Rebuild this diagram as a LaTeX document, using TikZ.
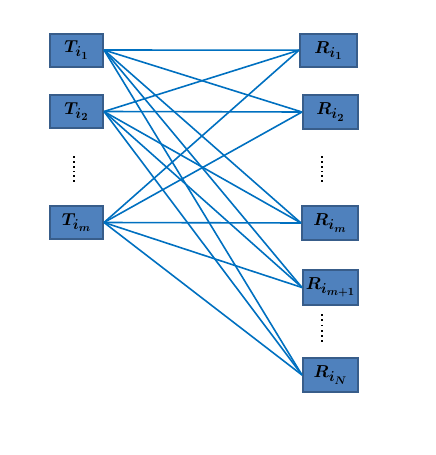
\documentclass[tikz,border=0pt]{standalone}
\usepackage{bm}
\DeclareMathSizes{18}{18}{13.5}{10.5}
\definecolor{boxfill}{RGB}{79,129,189}
\definecolor{boxline}{RGB}{56,93,138}
\definecolor{linkblue}{RGB}{0,112,192}
\begin{document}
\begin{tikzpicture}[x=1pt,y=-1pt,
  tbox/.style={draw=boxline, fill=boxfill, line width=2pt, inner sep=0pt,
     font=\fontsize{18}{20}\selectfont, text=black},
  link/.style={draw=linkblue, line width=1.6pt},
  dotsq/.style={fill=black}]
\useasboundingbox (0,0) rectangle (436,455);
% transmitter boxes
\node[tbox, minimum width=53pt, minimum height=33pt] (T1) at (76.5,50) {$\bm{T_{i_1}}$};
\node[tbox, minimum width=53pt, minimum height=33pt] (T2) at (76.5,111.5) {$\bm{T_{i_2}}$};
\node[tbox, minimum width=53pt, minimum height=33pt] (Tm) at (76.5,222.5) {$\bm{T_{i_m}}$};
% receiver boxes
\node[tbox, minimum width=57pt, minimum height=33pt] (R1) at (328.5,50.2) {$\bm{R_{i_1}}$};
\node[tbox, minimum width=55pt, minimum height=34pt] (R2) at (330.5,112) {$\bm{R_{i_2}}$};
\node[tbox, minimum width=56pt, minimum height=34pt] (Rm) at (330,223) {$\bm{R_{i_m}}$};
\node[tbox, minimum width=55pt, minimum height=35pt] (Rm1) at (330.5,287.5) {$\bm{R_{i_{m+1}}}$};
\node[tbox, minimum width=55pt, minimum height=34pt] (RN) at (330.5,375) {$\bm{R_{i_N}}$};
% links
\foreach \t in {T1,T2,Tm}{
  \foreach \r in {R1,R2,Rm,Rm1,RN}{
    \draw[link] (\t.east) -- (\r.west);
  }
}
% vertical dots
\foreach \y in {157,161.8,...,182}{
  \fill[dotsq] (73.2,\y-0.9) rectangle (75,\y+0.9);
  \fill[dotsq] (321.2,\y-0.9) rectangle (323,\y+0.9);
}
\foreach \y in {315,320.2,...,342}{
  \fill[dotsq] (321.2,\y-0.9) rectangle (323,\y+0.9);
}
\end{tikzpicture}
\end{document}
